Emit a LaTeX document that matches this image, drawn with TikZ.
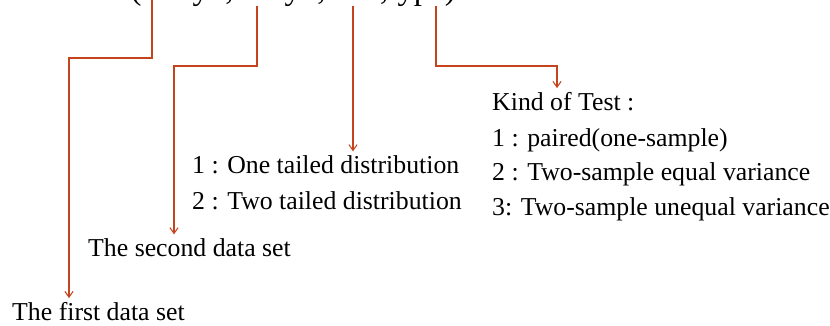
\documentclass[tikz,border=0pt]{standalone}
\usepackage{fontspec}
\setmainfont{Liberation Serif}
\usetikzlibrary{arrows.meta}
\definecolor{linkred}{RGB}{196,68,30}

\begin{document}
\begin{tikzpicture}[x=0.03cm,y=-0.03cm,
  link/.style={draw=linkred, line width=0.9pt},
  tip/.style={link, -{Straight Barb[length=5pt,width=7pt]}},
  label/.style={anchor=base west, inner xsep=0pt, inner ysep=3pt,
    font=\fontsize{22}{26}\selectfont}]

% =====================
% Page frame (the formula line runs off the top)
% =====================
\useasboundingbox (0,0) rectangle (830,325);
\clip (0,0) rectangle (830,325);

% =====================
% Formula
% =====================
\node[label, anchor=base east, font=\fontsize{28}{32}\selectfont] (func) at (456,-0.8)
  {=TTEST(array1,array2,tails,type)};

% =====================
% Argument texts
% =====================
\node[label] (first)  at (12,320)  {The first data set};
\node[label] (second) at (88,256)  {The second data set};
\node[label] (tails1) at (192,173) {1 : One tailed distribution};
\node[label] (tails2) at (192,209) {2 : Two tailed distribution};
\node[label] (kind)   at (492,110) {Kind of Test :};
\node[label] (type1)  at (492,146) {1 : paired(one-sample)};
\node[label] (type2)  at (492,180) {2 : Two-sample equal variance};
\node[label] (type3)  at (492,215) {3: Two-sample unequal variance};

% =====================
% Start points under the formula and the bends
% =====================
\coordinate (a1) at (152,0);
\coordinate (a2) at (257,6);
\coordinate (a3) at (353,6);
\coordinate (a4) at (436,6);
\coordinate (k1) at (69,58);
\coordinate (k2) at (174,66);
\coordinate (k4) at (557,66);

% =====================
% Connectors
% =====================
\draw[tip] (a1) |- (k1) -- (k1 |- first.north);
\draw[tip] (a2) |- (k2) -- (k2 |- second.north);
\draw[tip] (a3) -- (a3 |- tails1.north);
\draw[tip] (a4) |- (k4) -- (k4 |- kind.north);
\end{tikzpicture}
\end{document}
